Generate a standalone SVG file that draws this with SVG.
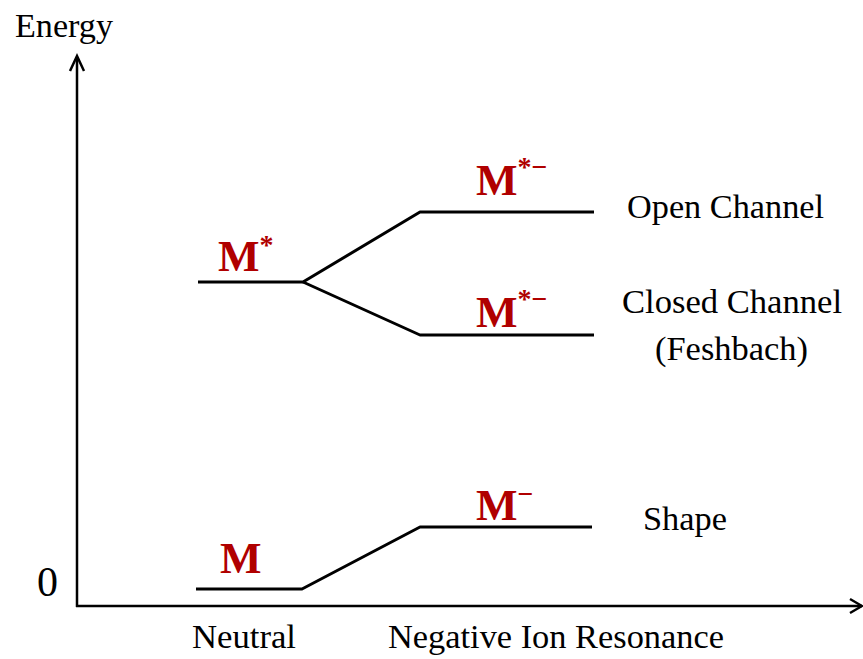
<svg xmlns="http://www.w3.org/2000/svg" width="863" height="659" viewBox="0 0 863 659">
<style>
text{font-family:'Liberation Serif','Times New Roman',Times,serif}
.lbl{fill:#000;font-size:34px}
.sp{fill:#b00000;font-weight:bold;font-size:44px}
.sup{font-size:28px}
.lvl{stroke:#000;stroke-width:3;fill:none;stroke-linejoin:round}
.ax{stroke:#000;stroke-width:2.5;fill:none}
</style>
<rect width="863" height="659" fill="#fff"/>
<g id="axes">
<line class="ax" x1="77" y1="607" x2="77" y2="57"/>
<polyline class="ax" points="70,71 77,56 84,71"/>
<line class="ax" x1="76" y1="606" x2="862" y2="606"/>
<polyline class="ax" points="850,599 862,606 850,613"/>
<text class="lbl" x="15" y="37" textLength="98" lengthAdjust="spacingAndGlyphs">Energy</text>
<text class="lbl" x="37" y="596" style="font-size:42px">0</text>
<text class="lbl" x="192" y="648" textLength="104" lengthAdjust="spacingAndGlyphs">Neutral</text>
<text class="lbl" x="388" y="648" textLength="336" lengthAdjust="spacingAndGlyphs">Negative Ion Resonance</text>
</g>
<g id="connectors">
<polyline class="lvl" points="196,589 302,589 420,527 592,527"/>
<polyline class="lvl" points="198,282 303,282 420,212 594,212"/>
<polyline class="lvl" points="303,282 420,335 594,335"/>
</g>
<g id="node-M">
<text class="sp" x="220" y="573">M</text>
</g>
<g id="node-Mstar">
<text class="sp" x="218" y="271">M<tspan class="sup" dy="-17">*</tspan></text>
</g>
<g id="node-open">
<text class="sp" x="476" y="195">M<tspan class="sup" dy="-19">*−</tspan></text>
<text class="lbl" x="627" y="218" textLength="197" lengthAdjust="spacingAndGlyphs">Open Channel</text>
</g>
<g id="node-closed">
<text class="sp" x="476" y="327">M<tspan class="sup" dy="-19">*−</tspan></text>
<text class="lbl" x="622" y="313" textLength="220" lengthAdjust="spacingAndGlyphs">Closed Channel</text>
<text class="lbl" x="655" y="360" textLength="153" lengthAdjust="spacingAndGlyphs">(Feshbach)</text>
</g>
<g id="node-shape">
<text class="sp" x="476" y="520">M<tspan class="sup" dy="-17">−</tspan></text>
<text class="lbl" x="643" y="530" textLength="84" lengthAdjust="spacingAndGlyphs">Shape</text>
</g>
</svg>
